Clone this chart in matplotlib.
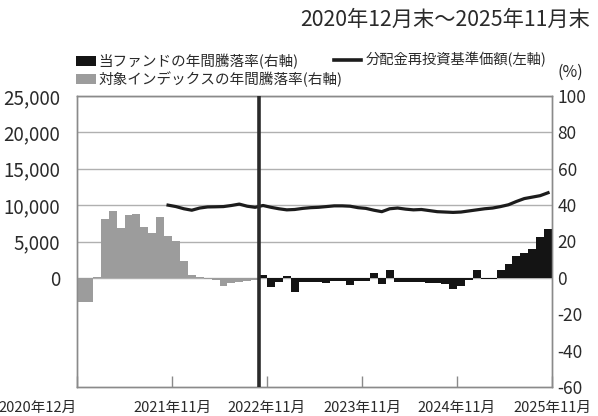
import matplotlib
matplotlib.use("Agg")
import matplotlib.pyplot as plt
from matplotlib.patches import Patch
from matplotlib.lines import Line2D
import numpy as np

plt.rcParams['font.family'] = ['Noto Sans CJK JP', 'DejaVu Sans']

# ---- data ----
title = "2020年12月末～2025年11月末"
tick_labels = ["2020年12月", "2021年11月", "2022年11月", "2023年11月", "2024年11月", "2025年11月"]
tick_pos = [0, 12, 24, 36, 48, 60]
n_months = 60

# index annual return (%), months 2020/12 .. 2022/10
index_ret = [-13.5, -13.5, 0.3, 32.3, 36.6, 27.3, 34.6, 35.1, 27.7, 24.9, 33.3, 23.0,
             20.2, 9.5, 1.5, 0.5, -0.5, -1.0, -4.5, -3.0, -2.0, -1.5, -1.0]
index_start = 0

# fund annual return (%), months 2022/11 .. 2025/11
fund_ret = [1.5, -5.0, -2.0, 1.0, -8.0, -2.5, -2.5, -2.0, -3.0, -1.5, -1.5, -4.0,
            -1.5, -1.5, 2.5, -3.5, 4.5, -2.5, -2.5, -2.5, -2.5, -3.0, -3.0, -3.5,
            -6.0, -4.5, -1.3, 4.6, -0.7, -0.7, 4.2, 7.9, 11.9, 13.7, 16.1, 22.2, 27.1]
fund_start = 23

# NAV with dividends reinvested (yen), months 2021/11 .. 2025/11
nav = [10000, 9800, 9500, 9300, 9600, 9750, 9770, 9800, 9950, 10140, 9850, 9700,
       9950, 9700, 9500, 9350, 9400, 9550, 9650, 9700, 9800, 9900, 9900, 9850,
       9650, 9550, 9300, 9100, 9500, 9600, 9450, 9350, 9400, 9250, 9100, 9050,
       9000, 9050, 9200, 9350, 9500, 9600, 9800, 10050, 10500, 10900, 11100, 11300, 11700]
nav_start = 11

left_ticks = [0, 5000, 10000, 15000, 20000, 25000]
right_ticks = [-60, -40, -20, 0, 20, 40, 60, 80, 100]
divider = 23

legend_fund = "当ファンドの年間騰落率(右軸)"
legend_index = "対象インデックスの年間騰落率(右軸)"
legend_nav = "分配金再投資基準価額(左軸)"

# ---- figure ----
fig = plt.figure(figsize=(5.98, 4.16), dpi=100)
ax1 = fig.add_axes([77/598, 1-387/416, (552-77)/598, (387-96)/416])
ax2 = ax1.twinx()

grid_c = "#b0b0b0"
spine_c = "#8a8a8a"
text_c = "#2a2a2a"

ax1.set_xlim(0, n_months)
ax1.set_ylim(-15000, 25000)
ax2.set_ylim(-60, 100)

# grid only at left ticks
for t in left_ticks:
    ax1.axhline(t, color=grid_c, lw=1.0, zorder=0)

# NAV line
x_nav = np.arange(nav_start, nav_start + len(nav)) + 0.5
ax1.plot(x_nav, nav, color="#1c1c1c", lw=2.3, zorder=3, solid_joinstyle='round')

# bars
x_idx = np.arange(index_start, index_start + len(index_ret)) + 0.5
ax2.bar(x_idx, index_ret, width=1.0, color="#9c9c9c", edgecolor="none", zorder=2)
x_fund = np.arange(fund_start, fund_start + len(fund_ret)) + 0.5
ax2.bar(x_fund, fund_ret, width=1.0, color="#141414", edgecolor="none", zorder=2)

ax2.axvline(divider, color="#2a2a2a", lw=2.6, zorder=4)

# axes formatting
ax1.set_yticks(left_ticks)
ax1.set_yticklabels([f"{v:,}" for v in left_ticks])
ax2.set_yticks(right_ticks)
ax2.set_yticklabels([str(v) for v in right_ticks])
ax1.set_xticks(tick_pos)
ax1.set_xticklabels(tick_labels)
ax1.get_xticklabels()[0].set_horizontalalignment('right')

ax1.tick_params(axis='y', length=0, pad=12, labelsize=13.5, labelcolor=text_c)
ax2.tick_params(axis='y', length=0, pad=4, labelsize=12.5, labelcolor=text_c)
ax1.tick_params(axis='x', direction='in', length=8, width=1, color=spine_c,
                pad=10, labelsize=10.5, labelcolor=text_c)

for ax in (ax1, ax2):
    for s in ax.spines.values():
        s.set_color(spine_c)
        s.set_linewidth(1.0)

# title and unit
fig.text(590/598, 1-20/416, title, ha='right', va='center', fontsize=15.3, color=text_c)
fig.text(570/598, 1-72/416, "(%)", ha='center', va='center', fontsize=11.5, color=text_c)

# legends
h1 = [Patch(facecolor="#141414", edgecolor="none"), Patch(facecolor="#9c9c9c", edgecolor="none")]
leg1 = fig.legend(h1, [legend_fund, legend_index], loc='center left',
                  bbox_to_anchor=(76/598, 1-70.5/416), frameon=False, fontsize=10.5,
                  handlelength=1.35, handleheight=0.6, handletextpad=0.2,
                  labelspacing=0.15, borderpad=0, borderaxespad=0, labelcolor=text_c)
h2 = [Line2D([0], [0], color="#1c1c1c", lw=2.6)]
leg2 = fig.legend(h2, [legend_nav], loc='center left',
                  bbox_to_anchor=(334/598, 1-60/416), frameon=False, fontsize=10.3,
                  handlelength=1.9, handletextpad=0.3, borderpad=0, borderaxespad=0,
                  labelcolor=text_c)

fig.savefig("out.png", dpi=100)
